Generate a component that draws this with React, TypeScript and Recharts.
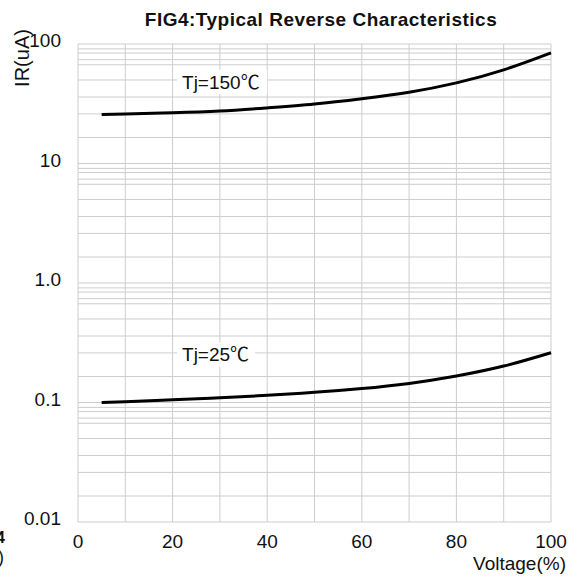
import {
  LineChart,
  Line,
  XAxis,
  YAxis,
  CartesianGrid,
  ReferenceDot,
  Label,
} from "recharts";

// voltage in % of rated, reverse current in uA
const voltage = [5, 10, 20, 30, 40, 50, 60, 70, 80, 90, 100];
const ir150 = [25.7, 26.0, 26.6, 27.5, 29.2, 31.4, 34.8, 39.5, 47.3, 60.8, 84.4];
const ir25 = [0.1, 0.1016, 0.1052, 0.1096, 0.1148, 0.1216, 0.1309, 0.1445, 0.1667, 0.2018, 0.2612];

const decades = [0.01, 0.1, 1, 10, 100];
const decadeLabels = ["0.01", "0.1", "1.0", "10", "100"];
const minorSteps = [1.65, 2.6, 3.6, 5, 6.7, 7.4, 8.4, 9.1];
const xTicks = [0, 10, 20, 30, 40, 50, 60, 70, 80, 90, 100];
const xLabels = [0, 20, 40, 60, 80, 100];

const data = voltage.map((v, i) => ({ v, t150: ir150[i], t25: ir25[i] }));

const yTicks = decades.flatMap((d, i) =>
  i < decades.length - 1
    ? [d, ...minorSteps.map((m) => Number((d * m).toPrecision(4)))]
    : [d]
);

const FONT = "'Liberation Sans', Arial, 'Noto Sans CJK SC', sans-serif";

const YTick = (props: any) => {
  const i = decades.indexOf(props.payload.value);
  if (i < 0) return <g />;
  return (
    <text
      x={props.x}
      y={props.y - 3.5}
      dy="0.355em"
      textAnchor="end"
      fontSize={19}
      fontFamily={FONT}
      fill="#111"
    >
      {decadeLabels[i]}
    </text>
  );
};

const XTick = (props: any) => {
  if (!xLabels.includes(props.payload.value)) return <g />;
  return (
    <text
      x={props.x}
      y={props.y + 26}
      textAnchor="middle"
      fontSize={19}
      fontFamily={FONT}
      fill="#111"
    >
      {props.payload.value}
    </text>
  );
};

const tag = (text: string, w: number) => (p: any) =>
  (
    <g>
      <rect x={p.cx - 5} y={p.cy - 12} width={w} height={24} fill="#fff" />
      <text
        x={p.cx}
        y={p.cy}
        dy="0.355em"
        fontSize={19}
        fontFamily={FONT}
        fill="#111"
      >
        {text}
      </text>
    </g>
  );

export default function App() {
  return (
    <div
      style={{
        position: "fixed",
        left: 0,
        top: 0,
        width: 579,
        height: 581,
        background: "#fff",
      }}
    >
      <LineChart
        width={579}
        height={581}
        data={data}
        margin={{ top: 44, right: 28, bottom: 0, left: 0 }}
      >
        <CartesianGrid stroke="#cdcdcd" strokeWidth={1} />
        <XAxis
          dataKey="v"
          type="number"
          domain={[0, 100]}
          ticks={xTicks}
          interval={0}
          axisLine={false}
          tickLine={false}
          tickSize={0}
          tickMargin={0}
          height={59}
          tick={<XTick />}
        >
          <Label
            content={(p: any) => (
              <text
                x={p.viewBox.x + p.viewBox.width + 15}
                y={p.viewBox.y + 48}
                textAnchor="end"
                fontSize={19}
                fontFamily={FONT}
                fill="#111"
              >
                Voltage(%)
              </text>
            )}
          />
        </XAxis>
        <YAxis
          type="number"
          scale="log"
          domain={[0.01, 100]}
          allowDataOverflow
          ticks={yTicks}
          interval={0}
          axisLine={false}
          tickLine={false}
          tickSize={0}
          tickMargin={17}
          width={78}
          tick={<YTick />}
        >
          <Label
            content={(p: any) => (
              <text
                x={22}
                y={p.viewBox.y + 14}
                transform={`rotate(-90 22 ${p.viewBox.y + 14})`}
                textAnchor="middle"
                dominantBaseline="central"
                fontSize={20}
                fontFamily={FONT}
                fill="#111"
              >
                IR(uA)
              </text>
            )}
          />
        </YAxis>
        <ReferenceDot
          x={22}
          y={48.1}
          r={0}
          ifOverflow="visible"
          shape={tag("Tj=150℃", 90)}
        />
        <ReferenceDot
          x={22}
          y={0.252}
          r={0}
          ifOverflow="visible"
          shape={tag("Tj=25℃", 78)}
        />
        <Line
          type="natural"
          dataKey="t150"
          stroke="#000"
          strokeWidth={3}
          dot={false}
          isAnimationActive={false}
        />
        <Line
          type="natural"
          dataKey="t25"
          stroke="#000"
          strokeWidth={3}
          dot={false}
          isAnimationActive={false}
        />
      </LineChart>
      <svg
        width={579}
        height={581}
        style={{ position: "absolute", left: 0, top: 0, pointerEvents: "none" }}
      >
        <text
          x={321}
          y={26}
          textAnchor="middle"
          fontSize={19}
          fontWeight="bold"
          letterSpacing={0.5}
          fontFamily={FONT}
          fill="#111"
        >
          FIG4:Typical Reverse Characteristics
        </text>
        <text x={5} y={543} textAnchor="end" fontSize={16} fontWeight="bold" fontFamily={FONT} fill="#111">
          4
        </text>
        <text x={4} y={563} textAnchor="end" fontSize={18} fontFamily={FONT} fill="#111">
          )
        </text>
      </svg>
    </div>
  );
}
